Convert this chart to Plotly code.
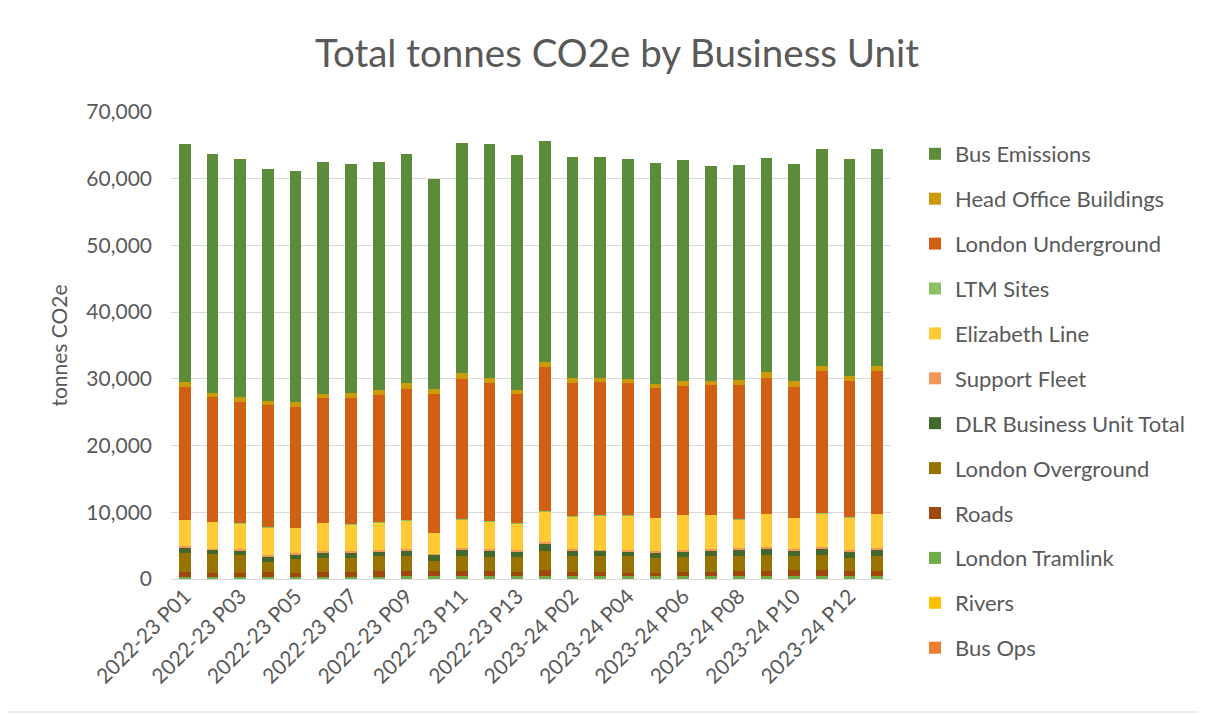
import plotly.graph_objects as go

periods = [f"2022-23 P{i:02d}" for i in range(1, 14)] + [f"2023-24 P{i:02d}" for i in range(1, 14)]
tick_labels = periods[::2]

# values in tonnes CO2e, stacking order bottom -> top
bus_ops = [50] * 26
rivers = [60] * 26
london_tramlink = [190] * 8 + [290] * 18
roads = [800, 600, 650, 700, 600, 800, 800, 950, 850, 850, 850, 750, 700, 1000, 700, 700, 500, 550, 700, 700, 750, 850, 1000, 1000, 850, 850]
london_overground = [2800, 2800, 2600, 1600, 2050, 2100, 2050, 2150, 2200, 1450, 2200, 2200, 2150, 2850, 2300, 2300, 2500, 2250, 2250, 2300, 2300, 2300, 2000, 2150, 1900, 2200]
dlr = [750, 650, 650, 750, 650, 700, 750, 700, 850, 900, 900, 850, 800, 1000, 800, 800, 700, 750, 750, 850, 900, 950, 900, 950, 900, 900]
support_fleet = [250, 150, 300, 200, 250, 250, 250, 200, 200, 200, 250, 300, 250, 250, 300, 200, 250, 250, 250, 250, 250, 250, 250, 250, 250, 250]
elizabeth_line = [3950, 4050, 3850, 4200, 3800, 4250, 4000, 4150, 4300, 3100, 4300, 4100, 4050, 4650, 4850, 5150, 5200, 4950, 5250, 5100, 4300, 5000, 4600, 5050, 4900, 5150]
ltm_sites = [60] * 26
london_underground = [19940, 18740, 18190, 18240, 18140, 18740, 18990, 19090, 19690, 20740, 21090, 20690, 19290, 21540, 20040, 19990, 19740, 19490, 19340, 19490, 20190, 20390, 19640, 21290, 20490, 21440]
head_office = [650, 600, 700, 650, 650, 600, 700, 700, 850, 800, 850, 750, 700, 800, 650, 600, 600, 600, 650, 550, 650, 800, 800, 800, 700, 700]
bus_emissions = [35650, 35700, 35650, 34700, 34700, 34650, 34250, 34250, 34250, 31400, 34450, 35050, 35100, 33050, 33100, 33100, 33050, 33100, 33100, 32150, 32200, 32150, 32500, 32500, 32500, 32450]

series = [
    ("Bus Ops", bus_ops, "#ED7D31"),
    ("Rivers", rivers, "#FFC000"),
    ("London Tramlink", london_tramlink, "#70AD47"),
    ("Roads", roads, "#9E480E"),
    ("London Overground", london_overground, "#997300"),
    ("DLR Business Unit Total", dlr, "#43682B"),
    ("Support Fleet", support_fleet, "#F1975A"),
    ("Elizabeth Line", elizabeth_line, "#FFCA33"),
    ("LTM Sites", ltm_sites, "#8CC168"),
    ("London Underground", london_underground, "#D26014"),
    ("Head Office Buildings", head_office, "#CC9A06"),
    ("Bus Emissions", bus_emissions, "#5B8C3A"),
]

FONT = "Lato, 'Open Sans', sans-serif"
GREY = "#595959"

fig = go.Figure()
n = len(series)
for i, (name, vals, col) in enumerate(series):
    fig.add_trace(go.Bar(
        x=periods, y=vals, name=name, legendgroup=name, legendrank=n - i,
        marker=dict(color=col, line=dict(width=0)),
    ))

OFF = 8
W, H = 1206, 715
L, R, T, B = 171 - OFF, 1206 - (891 - OFF), 112 - OFF, 715 - (579 - OFF)
pw, ph = W - L - R, H - T - B

fig.update_layout(
    width=W, height=H,
    barmode="stack", bargap=0.58,
    paper_bgcolor="white", plot_bgcolor="white",
    margin=dict(l=L, r=R, t=T, b=B),
    font=dict(family=FONT, color=GREY, size=21),
    title=dict(text="Total tonnes CO2e by Business Unit", x=0.505, xanchor="center",
               y=1 - (54 - OFF) / H, yanchor="middle", yref="container",
               font=dict(size=38.5, color=GREY, family=FONT)),
    legend=dict(traceorder="grouped", tracegroupgap=13.3,
                x=(915 - OFF - L) / pw, xanchor="left", y=1 - (133 - OFF - T) / ph, yanchor="top",
                font=dict(size=22, color=GREY, family=FONT), maxheight=690,
                itemwidth=30, bgcolor="rgba(0,0,0,0)"),
    xaxis=dict(type="category", tickmode="array", tickvals=tick_labels, ticktext=tick_labels,
               tickangle=-45, showgrid=False, showline=False, ticks="",
               tickfont=dict(size=21, color=GREY)),
    yaxis=dict(range=[0, 70000], dtick=10000, tickformat=",", showgrid=True,
               gridcolor="#D9D9D9", gridwidth=1, zeroline=True, zerolinecolor="#D9D9D9",
               zerolinewidth=1, showline=False, ticks="", ticklabelstandoff=18,
               tickfont=dict(size=21, color=GREY),
               title=dict(text="tonnes CO2e", font=dict(size=21, color=GREY), standoff=12)),
    shapes=[dict(type="rect", xref="paper", yref="paper",
                 x0=(2 - OFF - L) / pw, x1=(1203 - OFF - L) / pw,
                 y0=(T + ph - (712 - OFF)) / ph, y1=(T + ph - (2 - OFF)) / ph,
                 line=dict(color="#D9D9D9", width=1), fillcolor="rgba(0,0,0,0)", layer="below")],
)

fig.write_html("out.html")
